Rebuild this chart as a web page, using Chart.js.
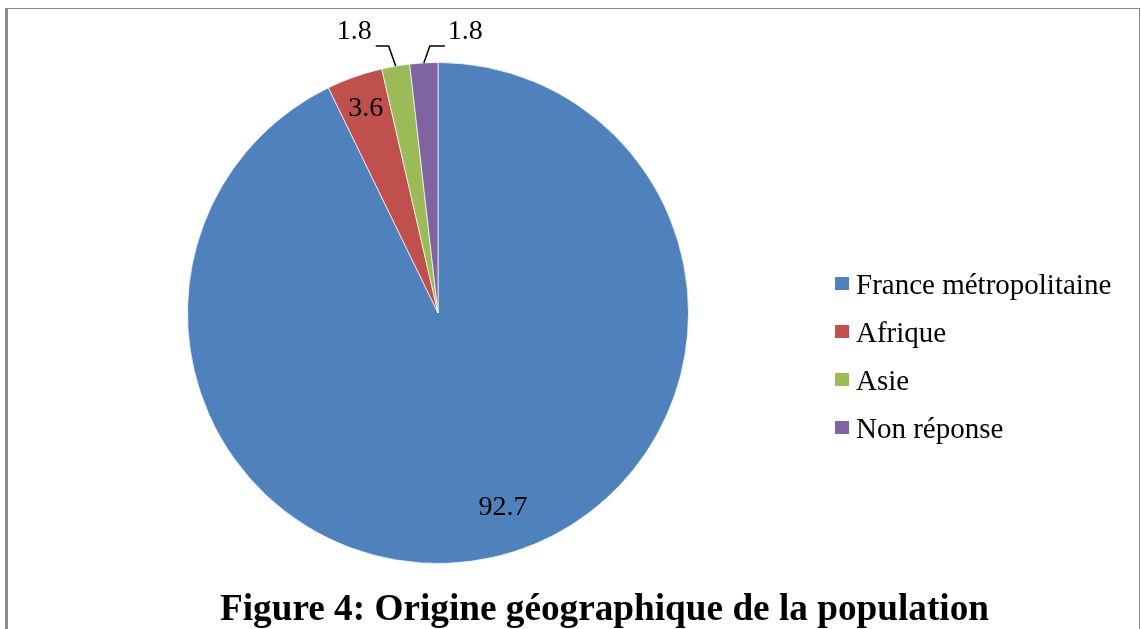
<!DOCTYPE html>
<html>
<head>
<meta charset="utf-8">
<script src="https://cdn.jsdelivr.net/npm/chart.js@4.4.0/dist/chart.umd.min.js"></script>
<style>
    body { margin: 0; background: #fff; width: 1141px; height: 629px; overflow: hidden; position: relative; font-family: "Liberation Serif", "DejaVu Serif", serif; }
    #pieChart { position: absolute; left: 0; top: 0; }
    .edge-left { position: absolute; left: 5px; top: 8px; width: 3px; height: 621px; background: #8a8a8a; }
    .edge-top { position: absolute; left: 5px; top: 8px; width: 1135px; height: 1px; background: #8a8a8a; }
    .edge-right { position: absolute; left: 1139px; top: 8px; width: 1px; height: 621px; background: #8a8a8a; }
    #legend { position: absolute; left: 835px; top: 260px; }
    .legend-row { height: 48px; display: flex; align-items: center; font-size: 29px; color: #000; white-space: nowrap; }
    .legend-box { width: 14px; height: 13px; margin-right: 7px; margin-top: -1px; }
    #figTitle { position: absolute; left: 220px; top: 585px; font-size: 38px; font-weight: bold; color: #000; white-space: nowrap; transform-origin: 0 0; transform: scaleX(0.98); }
</style>
</head>
<body>
<div class="edge-top"></div>
<div class="edge-left"></div>
<div class="edge-right"></div>
<canvas id="pieChart" width="1141" height="629"></canvas>
<div id="legend"></div>
<div id="figTitle">Figure 4: Origine géographique de la population</div>
<script>
// data (percentages)
const categories = ['France métropolitaine', 'Afrique', 'Asie', 'Non réponse'];
const values = [92.7, 3.6, 1.8, 1.8];
const sliceColors = ['#4F81BD', '#C0504D', '#9BBB59', '#8064A2'];

// where each value label sits relative to its slice
const labelPlaces = [
    { kind: 'inside', r: 0.82, shift: -5.5 },
    { kind: 'inside', r: 0.865, shift: 0 },
    { kind: 'outside', dx: -7, dy: -20, run: -13 },
    { kind: 'outside', dx: 6, dy: -17, run: 15 }
];

// draws value labels + leader lines using the arc geometry
const sliceLabels = {
    id: 'sliceLabels',
    afterDatasetsDraw(chart) {
        const ctx = chart.ctx;
        const meta = chart.getDatasetMeta(0);
        ctx.save();
        ctx.fillStyle = '#000';
        ctx.strokeStyle = '#000';
        ctx.lineWidth = 1.5;
        ctx.font = '28px "Liberation Serif", serif';
        ctx.textBaseline = 'middle';
        meta.data.forEach((arc, i) => {
            const p = arc.getProps(['x', 'y', 'startAngle', 'endAngle', 'outerRadius'], true);
            const place = labelPlaces[i];
            const text = values[i].toFixed(1);
            const mid = (p.startAngle + p.endAngle) / 2 + (place.shift || 0) * Math.PI / 180;
            if (place.kind === 'inside') {
                ctx.textAlign = 'center';
                ctx.fillText(text, p.x + Math.cos(mid) * p.outerRadius * place.r, p.y + Math.sin(mid) * p.outerRadius * place.r);
            } else {
                const sx = p.x + Math.cos(mid) * p.outerRadius;
                const sy = p.y + Math.sin(mid) * p.outerRadius;
                const ex = sx + place.dx;
                const ey = sy + place.dy;
                ctx.beginPath();
                ctx.moveTo(sx, sy);
                ctx.lineTo(ex, ey);
                ctx.lineTo(ex + place.run, ey);
                ctx.stroke();
                if (place.run < 0) {
                    ctx.textAlign = 'right';
                    ctx.fillText(text, ex + place.run - 4, ey - 14);
                } else {
                    ctx.textAlign = 'left';
                    ctx.fillText(text, ex + place.run + 3, ey - 14);
                }
            }
        });
        ctx.restore();
    }
};

document.addEventListener('DOMContentLoaded', function() {
    const ctx = document.getElementById('pieChart').getContext('2d');

    new Chart(ctx, {
        type: 'pie',
        data: {
            labels: categories,
            datasets: [{
                data: values,
                backgroundColor: sliceColors,
                borderColor: 'rgba(255,255,255,0.7)',
                borderWidth: 1
            }]
        },
        options: {
            responsive: false,
            animation: false,
            events: [],
            layout: {
                padding: { left: 186, top: 62, right: 451, bottom: 65 }
            },
            plugins: {
                legend: { display: false },
                tooltip: { enabled: false }
            }
        },
        plugins: [sliceLabels]
    });

    // legend built from the same arrays
    document.getElementById('legend').innerHTML = categories.map((name, i) => `
        <div class="legend-row">
            <span class="legend-box" style="background: ${sliceColors[i]};"></span>
            <span>${name}</span>
        </div>
    `).join('');
});
</script>
</body>
</html>
